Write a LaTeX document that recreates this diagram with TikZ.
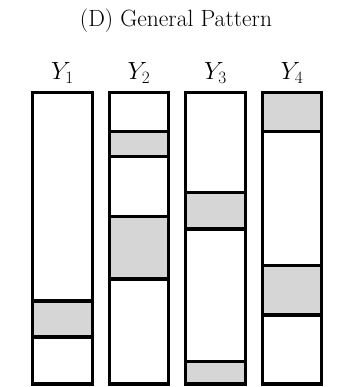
\documentclass[tikz,border=0pt]{standalone}
\begin{document}
\begin{tikzpicture}[x=1pt,y=-1pt,
  colbox/.style={draw=black,line width=3.3pt,minimum width=59.6pt,minimum height=291.3pt,inner sep=0pt,outer sep=0pt,anchor=north west},
  band/.style={fill=black!16},
  divider/.style={line width=3.3pt},
  collabel/.style={anchor=base,font=\fontsize{23}{27}\selectfont,inner sep=0pt},
  titletext/.style={anchor=base,font=\fontsize{23.5}{28}\selectfont,inner sep=0pt}]
\useasboundingbox (0,0) rectangle (362,387);

\node[titletext] (title) at (176,27) {(D) General Pattern};

% gray bands, drawn first so the box outlines sit on top
\fill[band] (32.7,301) rectangle (92.3,337);
\fill[band] (109.2,131.7) rectangle (168.8,156.3);
\fill[band] (109.2,216.7) rectangle (168.8,279);
\fill[band] (185.7,192.3) rectangle (245.3,229);
\fill[band] (185.7,361.7) rectangle (245.3,384);
\fill[band] (262.2,92.7) rectangle (321.8,131.7);
\fill[band] (262.2,265.7) rectangle (321.8,315);

% the four columns
\node[colbox] (c1) at (32.7,92.7) {};
\node[colbox] (c2) at (109.2,92.7) {};
\node[colbox] (c3) at (185.7,92.7) {};
\node[colbox] (c4) at (262.2,92.7) {};

% band borders
\foreach \c/\y in {c1/301,c1/337,c2/131.7,c2/156.3,c2/216.7,c2/279,
                   c3/192.3,c3/229,c3/361.7,c4/131.7,c4/265.7,c4/315}
  \draw[divider] (\c.west |- 0,\y) -- (\c.east |- 0,\y);

% column labels
\node[collabel] (l1) at ([yshift=12.7pt]c1.north) {$Y_1$};
\node[collabel] (l2) at ([yshift=12.7pt]c2.north) {$Y_2$};
\node[collabel] (l3) at ([yshift=12.7pt]c3.north) {$Y_3$};
\node[collabel] (l4) at ([yshift=12.7pt]c4.north) {$Y_4$};
\end{tikzpicture}
\end{document}
